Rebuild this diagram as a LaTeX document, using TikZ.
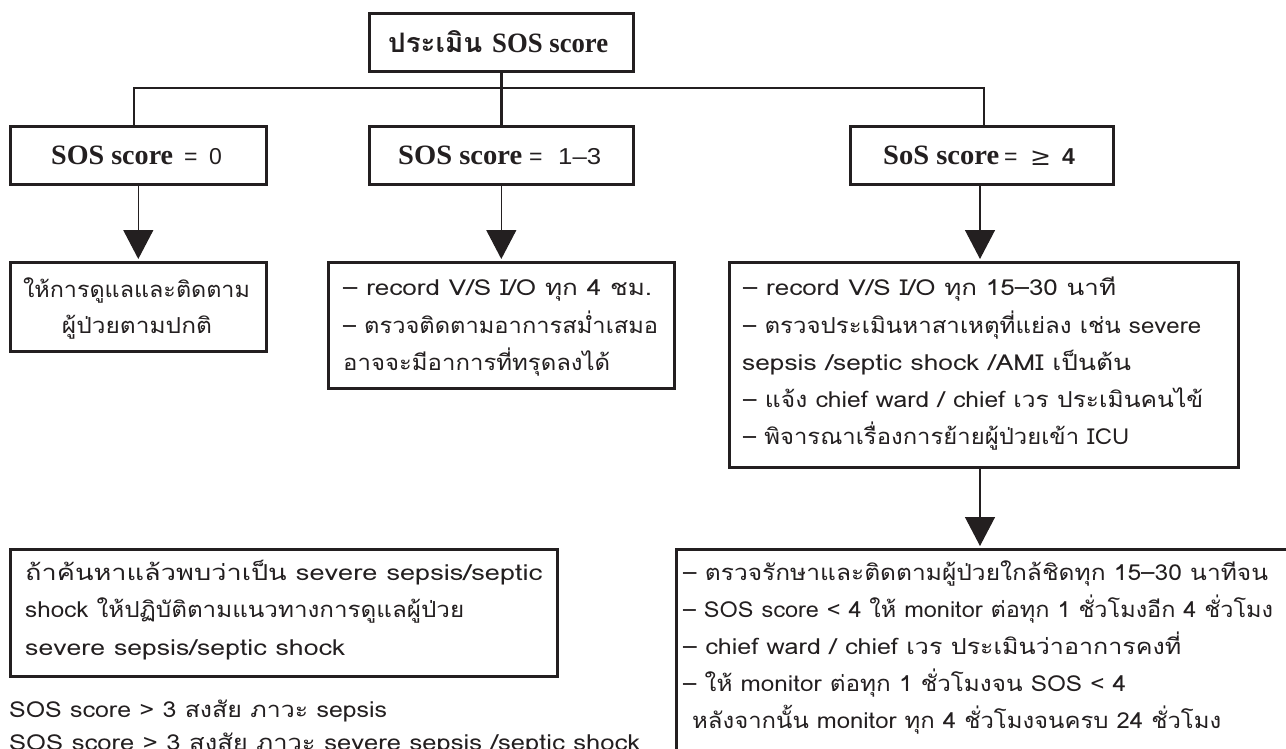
\documentclass[tikz,border=0pt]{standalone}
\usepackage{fontspec}
\usepackage{graphicx}
\usetikzlibrary{arrows.meta}
\newfontfamily\thfont[Script=Thai]{Loma}
\newfontfamily\hdserif{Liberation Serif}
\newfontfamily\hdsans{Liberation Sans}
\newfontfamily\symfont{DejaVu Serif}
\definecolor{ink}{HTML}{231F20}
\newcommand\fitw[2]{\resizebox{#1pt}{\height}{#2}}
\tikzset{
  box/.style={draw=ink, line width=2.6pt, inner sep=0pt, anchor=north west},
  hd/.style={font=\hdserif\bfseries\fontsize{28}{30}\selectfont, text=ink, inner sep=0pt, anchor=base west},
  hdsym/.style={font=\hdsans\fontsize{23}{25}\selectfont, text=ink, inner sep=0pt, anchor=base west},
  body/.style={font=\thfont\fontsize{22}{26}\selectfont, text=ink, inner sep=0pt, anchor=base west},
  bodyc/.style={body, anchor=base},
  link/.style={draw=ink, line width=2.6pt},
  flow/.style={draw=ink, line width=1.3pt, -{Triangle[width=30pt,length=29pt]}, shorten >=2pt},
}
\begin{document}
\begin{tikzpicture}[x=1pt,y=-1pt]
\useasboundingbox (0,0) rectangle (1286,748);
\clip (0,0) rectangle (1286,748);
% ---------- boxes
\node[box, minimum width=264pt, minimum height=58pt] (top) at (368,12) {};
\node[box, minimum width=256pt, minimum height=58pt] (b0) at (9,125) {};
\node[box, minimum width=264pt, minimum height=58pt] (b1) at (368,125) {};
\node[box, minimum width=263pt, minimum height=58pt] (b2) at (849,125) {};
\node[box, minimum width=256pt, minimum height=89pt] (c0) at (9,261) {};
\node[box, minimum width=346pt, minimum height=126pt] (c1) at (327,261) {};
\node[box, minimum width=509pt, minimum height=205pt] (c2) at (728,261) {};
\node[box, minimum width=640pt, minimum height=230pt] (d2) at (675,548) {};
\node[box, minimum width=547pt, minimum height=127pt] (d0) at (9,548) {};
% ---------- header texts
\node[hd] (topth) at (388,52) {\resizebox{94pt}{22pt}{\thfont\bfseries ประเมิน}};
\node[hd] (topla) at (492,52) {\fitw{116}{SOS score}};
\node[hd] (b0t) at (51,164) {\fitw{122}{SOS score}};
\node[hdsym] (b0e) at (184,164) {=};
\node[hdsym] (b0n) at (209,164) {0};
\node[hd] (b1t) at (398,164) {\fitw{124}{SOS score}};
\node[hdsym] (b1e) at (529,164) {=};
\node[hdsym] (b1n) at (558,164) {\fitw{43}{1–3}};
\node[hd] (b2t) at (883,164) {\fitw{116}{SoS score}};
\node[hdsym] (b2e) at (1004,164) {=};
\node[hdsym] (b2g) at (1030,165) {\resizebox{21pt}{!}{\symfont ≥}};
\node[hdsym, font=\hdsans\bfseries\fontsize{23}{25}\selectfont] (b2n) at (1062,164) {4};
% ---------- connectors
\coordinate (j0) at (134,88);
\coordinate (j2) at (984,88);
\coordinate (s2) at (980,0);
\draw[link] (top.south) -- (top.south |- j0);
\draw[link] (j0 |- b0.north) -- (j0) -- (j2) -- (j2 |- b2.north);
\draw[link] (top.south |- j0) -- (b1.north);
\draw[flow] (b0.south) -- (b0.south |- c0.north);
\draw[flow] (b1.south) -- (b1.south |- c1.north);
\draw[flow] (s2 |- b2.south) -- (s2 |- c2.north);
\draw[flow] (s2 |- c2.south) -- (s2 |- d2.north);
% ---------- body texts
\node[bodyc] (c0a) at (136.5,297) {\fitw{227}{ให้การดูแลและติดตาม}};
\node[bodyc] (c0b) at (137,333) {\fitw{150}{ผู้ป่วยตามปกติ}};
\node[body] (c1a) at (343,295) {\fitw{309}{– record V/S I/O ทุก 4 ชม.}};
\node[body] (c1b) at (343,333) {\fitw{315}{– ตรวจติดตามอาการสม่ำเสมอ}};
\node[body] (c1c) at (343,370) {\fitw{267}{อาจจะมีอาการที่ทรุดลงได้}};
\node[body] (c2a) at (743,295) {\fitw{373}{– record V/S I/O ทุก 15–30 นาที}};
\node[body] (c2b) at (743,333) {\fitw{458}{– ตรวจประเมินหาสาเหตุที่แย่ลง เช่น severe}};
\node[body] (c2c) at (742,370) {\fitw{389}{sepsis /septic shock /AMI เป็นต้น}};
\node[body] (c2d) at (743,407) {\fitw{460}{– แจ้ง chief ward / chief เวร ประเมินคนไข้}};
\node[body] (c2e) at (743,444) {\fitw{386}{– พิจารณาเรื่องการย้ายผู้ป่วยเข้า ICU}};
\node[body] (d2a) at (683,580) {\fitw{585}{– ตรวจรักษาและติดตามผู้ป่วยใกล้ชิดทุก 15–30 นาทีจน}};
\node[body] (d2b) at (683,617) {\fitw{590}{– SOS score < 4 ให้ monitor ต่อทุก 1 ชั่วโมงอีก 4 ชั่วโมง}};
\node[body] (d2c) at (683,654) {\fitw{498}{– chief ward / chief เวร ประเมินว่าอาการคงที่}};
\node[body] (d2d) at (683,691) {\fitw{443}{– ให้ monitor ต่อทุก 1 ชั่วโมงจน SOS < 4}};
\node[body] (d2e) at (692,728) {\fitw{529}{หลังจากนั้น monitor ทุก 4 ชั่วโมงจนครบ 24 ชั่วโมง}};
\node[body] (d0a) at (25,580) {\fitw{517}{ถ้าค้นหาแล้วพบว่าเป็น severe sepsis/septic}};
\node[body] (d0b) at (25,617) {\fitw{439}{shock ให้ปฏิบัติตามแนวทางการดูแลผู้ป่วย}};
\node[body] (d0c) at (25,655) {\fitw{320}{severe sepsis/septic shock}};
\node[body] (e1) at (9,717) {\fitw{378}{SOS score > 3 สงสัย ภาวะ sepsis}};
\node[body] (e2) at (9,750) {\fitw{631}{SOS score > 3 สงสัย ภาวะ severe sepsis /septic shock}};
\end{tikzpicture}
\end{document}
